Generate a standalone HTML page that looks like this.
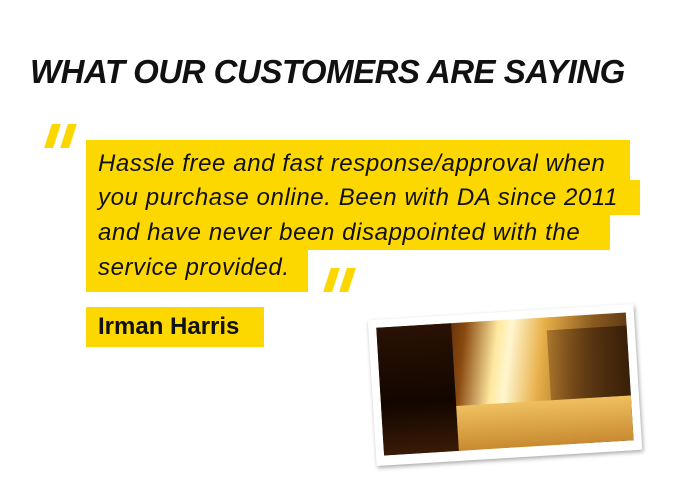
<!DOCTYPE html>
<html><head><meta charset="utf-8"><style>
body{margin:0;width:680px;height:482px;background:#fff;position:relative;overflow:hidden;font-family:"Liberation Sans","DejaVu Sans",sans-serif;}
.t{position:absolute;left:30px;top:53px;font-size:33px;font-weight:bold;font-style:italic;color:#111;letter-spacing:-0.5px;white-space:nowrap}
.ln{position:absolute;background:#fcd800;font-style:italic;font-size:24px;letter-spacing:0.6px;color:#111;white-space:nowrap;padding-left:12px;box-sizing:border-box;line-height:35px}
.bar{position:absolute;width:9px;height:24px;background:#fcd800;transform:skewX(-18deg)}
.name{position:absolute;left:86px;top:307px;width:178px;height:40px;background:#fcd800;font-weight:bold;font-size:24px;line-height:40px;padding-left:12px;box-sizing:border-box;color:#111}
.ph{position:absolute;left:372px;top:312px;width:266px;height:146px;background:#fff;transform:rotate(-3.5deg);box-shadow:1px 2px 4px rgba(0,0,0,.35);}
.img{position:absolute;left:8px;top:8px;right:8px;bottom:10px;background:linear-gradient(100deg,#1a0a02 0%,#3a1806 20%,#8a4a10 33%,#ffe9a0 45%,#fff6d0 50%,#e8b04a 62%,#8a5a20 80%,#4a2a10 100%);overflow:hidden}
</style></head><body>
<div class="t">WHAT OUR CUSTOMERS ARE SAYING</div>
<div><div class="bar" style="left:48px;top:124px"></div><div class="bar" style="left:64px;top:124px"></div></div>
<div class="ln" style="left:86px;top:140px;width:544px;height:40px;line-height:48px">Hassle free and fast response/approval when</div>
<div class="ln" style="left:86px;top:180px;width:554px;height:35px">you purchase online. Been with DA since 2011</div>
<div class="ln" style="left:86px;top:215px;width:524px;height:35px">and have never been disappointed with the</div>
<div class="ln" style="left:86px;top:250px;width:222px;height:42px;line-height:36px">service provided.</div>
<div><div class="bar" style="left:327px;top:268px"></div><div class="bar" style="left:343px;top:268px"></div></div>
<div class="name">Irman Harris</div>
<div class="ph"><div class="img">
<div style="position:absolute;left:0;top:0;width:30%;height:100%;background:linear-gradient(180deg,#2a1204,#120600 60%,#3a1a06)"></div>
<div style="position:absolute;left:30%;bottom:0;width:70%;height:35%;background:linear-gradient(180deg,#f0c060,#c88a30)"></div>
<div style="position:absolute;left:68%;top:10%;width:32%;height:55%;background:linear-gradient(90deg,rgba(120,70,20,.5),#3a200a)"></div>
</div></div>
</body></html>
